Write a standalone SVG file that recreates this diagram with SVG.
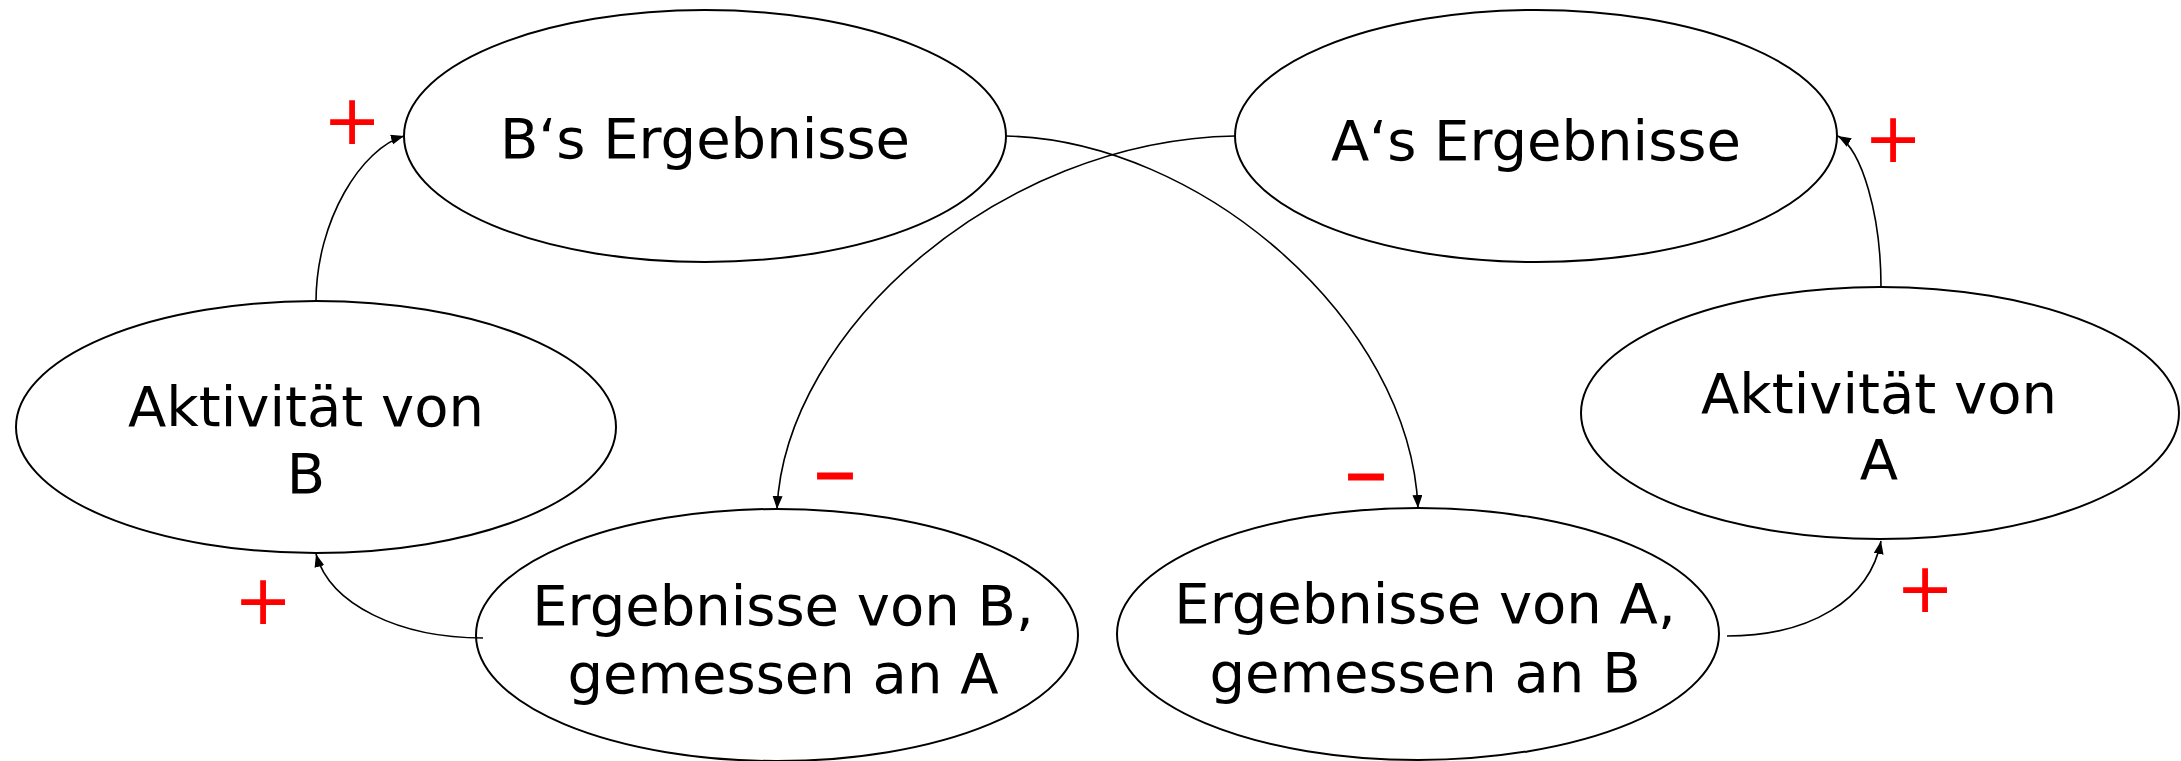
<svg xmlns="http://www.w3.org/2000/svg" width="2181" height="761" viewBox="0 0 2181 761">
<style>
.node ellipse{fill:#fff;stroke:#000;stroke-width:2}
.node text{font-family:"DejaVu Sans",Verdana,sans-serif;font-size:56px;fill:#000;text-anchor:middle}
.conn path{fill:none;stroke:#000;stroke-width:1.6;marker-end:url(#arr)}
.sign{font-family:"DejaVu Sans",sans-serif;fill:#ff0000;text-anchor:middle}
.plus{font-size:70px}
.minus{font-size:86px;stroke:#ff0000;stroke-width:1.2}
</style>
<defs>
<marker id="arr" markerUnits="userSpaceOnUse" markerWidth="14" markerHeight="12" refX="13" refY="5" orient="auto">
<path d="M0,0 L13,5 L0,10 z" fill="#000"/>
</marker>
</defs>
<rect width="2181" height="761" fill="#fff"/>
<g id="n-b-ergebnisse" class="node">
<ellipse cx="705" cy="136" rx="301" ry="126"/>
<text x="705" y="158">B‘s Ergebnisse</text>
</g>
<g id="n-a-ergebnisse" class="node">
<ellipse cx="1536" cy="136" rx="301" ry="126"/>
<text x="1536" y="160">A‘s Ergebnisse</text>
</g>
<g id="n-aktivitaet-b" class="node">
<ellipse cx="316" cy="427" rx="300" ry="126"/>
<text x="306" y="426">Aktivität von</text>
<text x="306" y="493">B</text>
</g>
<g id="n-aktivitaet-a" class="node">
<ellipse cx="1880" cy="413" rx="299" ry="126"/>
<text x="1879" y="413">Aktivität von</text>
<text x="1879" y="479">A</text>
</g>
<g id="n-ergebnisse-b" class="node">
<ellipse cx="777" cy="635" rx="301" ry="126"/>
<text x="783" y="625">Ergebnisse von B,</text>
<text x="783" y="693">gemessen an A</text>
</g>
<g id="n-ergebnisse-a" class="node">
<ellipse cx="1418" cy="634" rx="301" ry="126"/>
<text x="1425" y="623">Ergebnisse von A,</text>
<text x="1425" y="692">gemessen an B</text>
</g>
<g id="connectors" class="conn">
<path d="M316,302 C316,220 362,148 404,136"/>
<path d="M1006,136 C1200,140 1410,320 1418,508"/>
<path d="M1235,136 C1000,140 785,330 777,509"/>
<path d="M483,638 C400,638 330,605 316,554"/>
<path d="M1727,636 C1810,636 1870,600 1881,541"/>
<path d="M1881,287 C1881,215 1862,150 1838,136"/>
</g>
<g id="signs">
<text class="sign plus" x="352" y="144">+</text>
<text class="sign plus" x="1893" y="162">+</text>
<text class="sign plus" x="263" y="624">+</text>
<text class="sign plus" x="1925" y="612">+</text>
<text class="sign minus" x="835" y="499">–</text>
<text class="sign minus" x="1366" y="500">–</text>
</g>
</svg>
